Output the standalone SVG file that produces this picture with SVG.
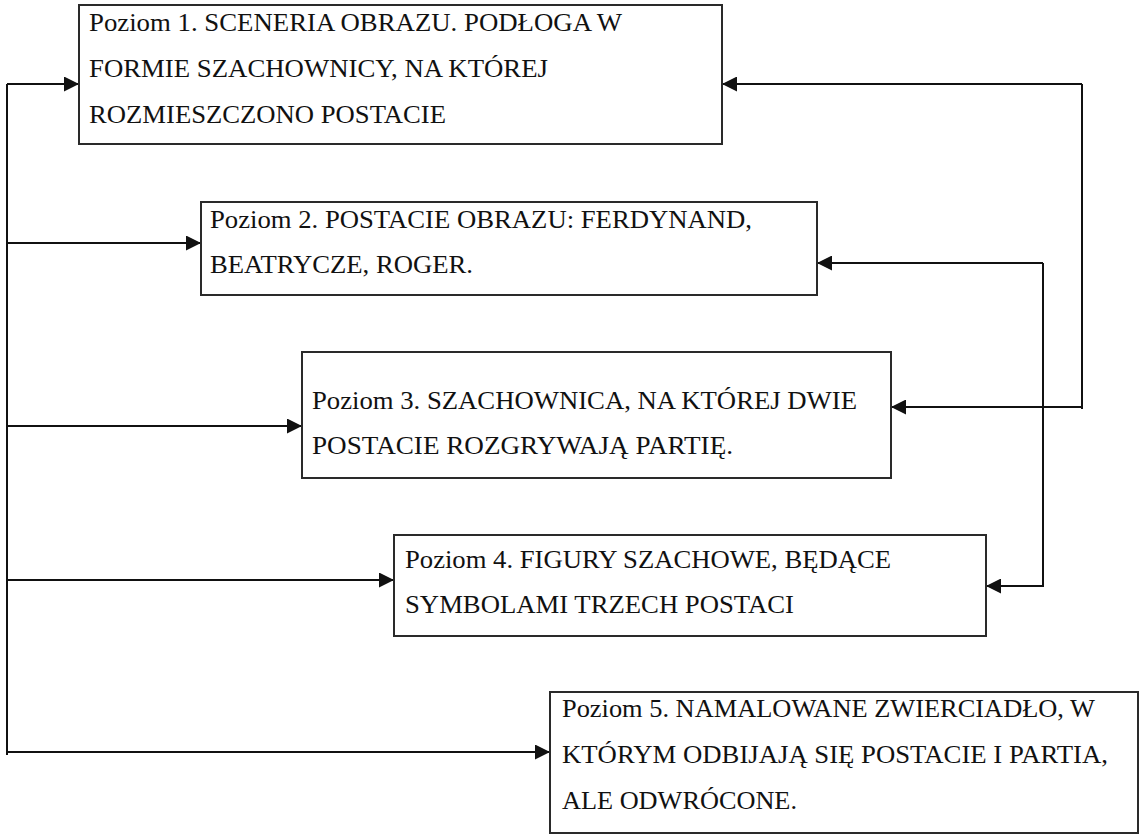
<svg xmlns="http://www.w3.org/2000/svg" width="1141" height="837" viewBox="0 0 1141 837">
<style>
.box{fill:#ffffff;stroke:#2a2a2a;stroke-width:2}
.lbl{font-family:"Liberation Serif","Times New Roman",serif;font-size:24.5px;fill:#111}
.conn{fill:none;stroke:#111;stroke-width:2}
</style>
<defs>
<marker id="ah" markerUnits="userSpaceOnUse" markerWidth="15" markerHeight="15" refX="15" refY="7.5" orient="auto">
<path d="M0,0 L15,7.5 L0,15 z" fill="#111"/>
</marker>
</defs>
<rect width="1141" height="837" fill="#ffffff"/>
<g id="connectors">
<path class="conn" d="M7,84 V755"/>
<path class="conn" d="M7,84 H79" marker-end="url(#ah)"/>
<path class="conn" d="M7,243 H201" marker-end="url(#ah)"/>
<path class="conn" d="M7,426 H302" marker-end="url(#ah)"/>
<path class="conn" d="M7,580 H394" marker-end="url(#ah)"/>
<path class="conn" d="M7,752 H550" marker-end="url(#ah)"/>
<path class="conn" d="M1082,84 V409"/>
<path class="conn" d="M1082,84 H722" marker-end="url(#ah)"/>
<path class="conn" d="M1082,407 H891" marker-end="url(#ah)"/>
<path class="conn" d="M1043,263 V587"/>
<path class="conn" d="M1043,263 H817" marker-end="url(#ah)"/>
<path class="conn" d="M1043,586 H986" marker-end="url(#ah)"/>
</g>
<g id="node1">
<rect class="box" x="79" y="5" width="643" height="139"/>
<text class="lbl" x="89" y="31" textLength="533" lengthAdjust="spacingAndGlyphs">Poziom 1. SCENERIA OBRAZU. PODŁOGA W</text>
<text class="lbl" x="89" y="77" textLength="459" lengthAdjust="spacingAndGlyphs">FORMIE SZACHOWNICY, NA KTÓREJ</text>
<text class="lbl" x="89" y="123" textLength="357" lengthAdjust="spacingAndGlyphs">ROZMIESZCZONO POSTACIE</text>
</g>
<g id="node2">
<rect class="box" x="201" y="202" width="616" height="93"/>
<text class="lbl" x="210" y="228" textLength="542" lengthAdjust="spacingAndGlyphs">Poziom 2. POSTACIE OBRAZU: FERDYNAND,</text>
<text class="lbl" x="210" y="273" textLength="263" lengthAdjust="spacingAndGlyphs">BEATRYCZE, ROGER.</text>
</g>
<g id="node3">
<rect class="box" x="302" y="352" width="589" height="126"/>
<text class="lbl" x="312" y="409" textLength="545" lengthAdjust="spacingAndGlyphs">Poziom 3. SZACHOWNICA, NA KTÓREJ DWIE</text>
<text class="lbl" x="312" y="454" textLength="421" lengthAdjust="spacingAndGlyphs">POSTACIE ROZGRYWAJĄ PARTIĘ.</text>
</g>
<g id="node4">
<rect class="box" x="394" y="535" width="592" height="101"/>
<text class="lbl" x="405" y="568" textLength="486" lengthAdjust="spacingAndGlyphs">Poziom 4. FIGURY SZACHOWE, BĘDĄCE</text>
<text class="lbl" x="405" y="613" textLength="389" lengthAdjust="spacingAndGlyphs">SYMBOLAMI TRZECH POSTACI</text>
</g>
<g id="node5">
<rect class="box" x="550" y="692" width="588" height="141"/>
<text class="lbl" x="562" y="717" textLength="533" lengthAdjust="spacingAndGlyphs">Poziom 5. NAMALOWANE ZWIERCIADŁO, W</text>
<text class="lbl" x="562" y="763" textLength="546" lengthAdjust="spacingAndGlyphs">KTÓRYM ODBIJAJĄ SIĘ POSTACIE I PARTIA,</text>
<text class="lbl" x="562" y="809" textLength="235" lengthAdjust="spacingAndGlyphs">ALE ODWRÓCONE.</text>
</g>
</svg>
